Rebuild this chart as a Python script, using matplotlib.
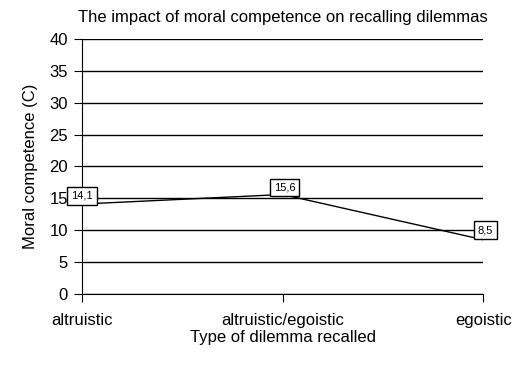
import matplotlib.pyplot as plt

plt.rcParams['font.family'] = ['Liberation Sans', 'DejaVu Sans']

categories = ['altruistic', 'altruistic/egoistic', 'egoistic']
values = [14.1, 15.6, 8.5]
labels = ['14,1', '15,6', '8,5']

fig = plt.figure(figsize=(5.19, 3.72), dpi=100)
ax = fig.add_axes([0.158, 0.210, 0.773, 0.685])

x = range(len(categories))
ax.plot(x, values, color='black', lw=1)

box = dict(boxstyle='square,pad=0.35', fc='white', ec='black', lw=1)
offsets = [(0, 6), (1.5, 5), (1.5, 7)]
for i, (v, lab) in enumerate(zip(values, labels)):
    dx, dy = offsets[i]
    ax.annotate(lab, (i, v), xytext=(dx, dy), textcoords='offset points',
                ha='center', va='center', fontsize=8, bbox=box,
                annotation_clip=False)

ax.set_xlim(0, 2)
ax.set_ylim(0, 40)
ax.set_yticks(range(0, 41, 5))
ax.set_xticks(list(x))
ax.set_xticklabels(categories)
ax.yaxis.grid(True, color='black', lw=1)
ax.set_axisbelow(True)
for s in ['top', 'right']:
    ax.spines[s].set_visible(False)
ax.tick_params(axis='both', labelsize=12, length=6, color='black', pad=4)
ax.tick_params(axis='x', pad=8)
ax.set_xlabel('Type of dilemma recalled', fontsize=12, labelpad=1)
ax.set_ylabel('Moral competence (C)', fontsize=12, labelpad=8)
ax.set_title('The impact of moral competence on recalling dilemmas', fontsize=12, pad=12)

fig.savefig('out.png', dpi=100)
